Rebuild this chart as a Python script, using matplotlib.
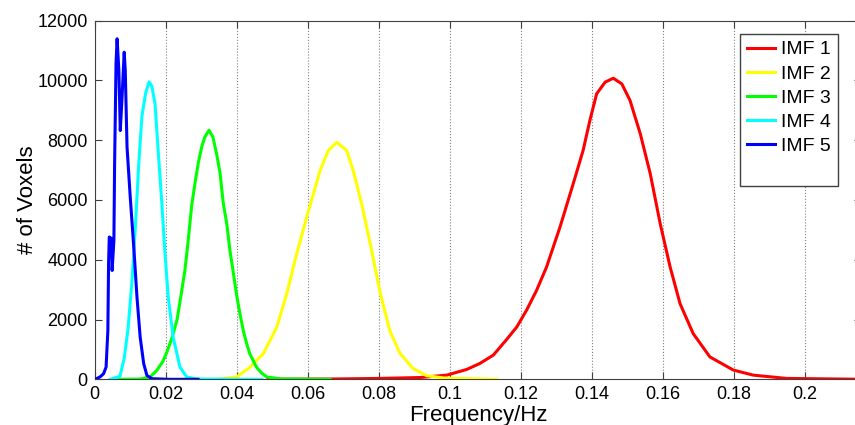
import matplotlib
matplotlib.use("Agg")
import matplotlib.pyplot as plt
from matplotlib.lines import Line2D

plt.rcParams["font.family"] = ["Liberation Sans", "DejaVu Sans"]

# histogram outlines (frequency in Hz, number of voxels)
imf1_freq = [0.0488, 0.0663, 0.0804, 0.0917, 0.0992, 0.1048, 0.1085, 0.1123, 0.1161,
             0.1189, 0.1217, 0.1245, 0.1273, 0.1311, 0.1348, 0.1376, 0.1395, 0.1414,
             0.1438, 0.1461, 0.1485, 0.1508, 0.1537, 0.1565, 0.1593, 0.1621, 0.1649,
             0.1686, 0.1733, 0.1799, 0.1855, 0.1949, 0.2136, 0.2159]
imf1_count = [0, 10, 30, 60, 140, 330, 530, 810, 1340, 1750, 2320, 2980, 3760, 5100,
              6540, 7660, 8660, 9550, 9940, 10070, 9880, 9330, 8210, 6880, 5210, 3760,
              2530, 1530, 750, 310, 140, 30, 5, 0]

imf2_freq = [0.0347, 0.0400, 0.0437, 0.0475, 0.0513, 0.0541, 0.0569, 0.0597, 0.0616,
             0.0635, 0.0658, 0.0682, 0.0710, 0.0728, 0.0752, 0.0776, 0.0804, 0.0832,
             0.0860, 0.0897, 0.0935, 0.0987, 0.1133]
imf2_count = [0, 80, 400, 860, 1750, 2860, 4200, 5420, 6200, 6990, 7650, 7930, 7650,
              6990, 5870, 4540, 2900, 1600, 870, 360, 120, 40, 0]

imf3_freq = [0.0062, 0.0128, 0.0156, 0.0175, 0.0192, 0.0203, 0.0218, 0.0232, 0.0243,
             0.0254, 0.0263, 0.0273, 0.0283, 0.0292, 0.0302, 0.0310, 0.0322, 0.0333,
             0.0344, 0.0353, 0.0362, 0.0372, 0.0381, 0.0390, 0.0400, 0.0409, 0.0419,
             0.0428, 0.0437, 0.0456, 0.0471, 0.0485, 0.0522, 0.0663]
imf3_count = [0, 10, 80, 300, 600, 900, 1400, 2000, 2800, 3640, 4600, 5800, 6600, 7250,
              7800, 8100, 8330, 8100, 7500, 6900, 5900, 5200, 4300, 3600, 2800, 2200,
              1600, 1200, 850, 400, 200, 80, 15, 0]

imf4_freq = [0.0043, 0.0071, 0.0083, 0.0094, 0.0105, 0.0114, 0.0124, 0.0133, 0.0143,
             0.0153, 0.0161, 0.0170, 0.0179, 0.0189, 0.0198, 0.0207, 0.0221, 0.0240,
             0.0259, 0.0288, 0.0471]
imf4_count = [0, 100, 700, 1700, 3300, 5000, 7200, 8800, 9550, 9950, 9800, 9200, 7600,
              5900, 4200, 2750, 1410, 410, 80, 10, 0]

imf5_freq = [0.0002, 0.0016, 0.0025, 0.0032, 0.0037, 0.0039, 0.0041, 0.0047, 0.0049,
             0.0054, 0.0056, 0.0060, 0.0063, 0.0068, 0.0072, 0.0077, 0.0083, 0.0086,
             0.0091, 0.0100, 0.0110, 0.0119, 0.0128, 0.0138, 0.0147, 0.0161, 0.0212,
             0.0291]
imf5_count = [0, 90, 190, 410, 1640, 3880, 4760, 4710, 3640, 4650, 7220, 10560, 11390,
              10330, 8320, 9440, 10940, 10330, 7770, 6100, 4420, 2750, 1410, 520, 130,
              20, 0, 0]

labels = ["IMF 1", "IMF 2", "IMF 3", "IMF 4", "IMF 5"]
colors = ["#ff0000", "#ffff00", "#00ff00", "#00ffff", "#0000ff"]

x_ticks = [0, 0.02, 0.04, 0.06, 0.08, 0.1, 0.12, 0.14, 0.16, 0.18, 0.2]
x_tick_labels = ["0", "0.02", "0.04", "0.06", "0.08", "0.1", "0.12", "0.14", "0.16", "0.18", "0.2"]
y_ticks = [0, 2000, 4000, 6000, 8000, 10000, 12000]

fig = plt.figure(figsize=(8.55, 4.25), dpi=100)
ax = fig.add_axes([0.1108, 0.1075, 0.8963, 0.8442])

series = [(imf1_freq, imf1_count), (imf2_freq, imf2_count), (imf3_freq, imf3_count),
          (imf4_freq, imf4_count), (imf5_freq, imf5_count)]
for (f, c), lab, col in zip(series, labels, colors):
    ax.plot(f, c, color=col, lw=2.2, label=lab, zorder=3)

ax.set_xlim(0, 0.2159)
ax.set_ylim(0, 12000)
ax.set_xticks(x_ticks)
ax.set_xticklabels(x_tick_labels)
ax.set_yticks(y_ticks)
ax.grid(axis="x", linestyle=":", color="#808080", lw=0.8)
ax.set_axisbelow(True)

for s in ax.spines.values():
    s.set_color("#404040")
ax.tick_params(direction="in", top=True, right=True, length=5, color="#404040",
               labelsize=13, pad=5)

ax.set_xlabel("Frequency/Hz", fontsize=16, labelpad=1)
ax.set_ylabel("# of Voxels", fontsize=16, labelpad=-0.5)

# MATLAB legends leave an empty row at the bottom
handles, labs = ax.get_legend_handles_labels()
handles.append(Line2D([], [], color="none"))
labs.append(" ")
leg = ax.legend(handles, labs, loc="upper right", bbox_to_anchor=(838 / 855, 1 - 34 / 425),
                bbox_transform=fig.transFigure, borderaxespad=0, fontsize=14,
                fancybox=False, edgecolor="#404040", framealpha=1,
                handlelength=1.4, handletextpad=0.35, labelspacing=0.34, borderpad=0.35)
leg.get_frame().set_linewidth(1.0)

fig.savefig("out.png", dpi=100)
